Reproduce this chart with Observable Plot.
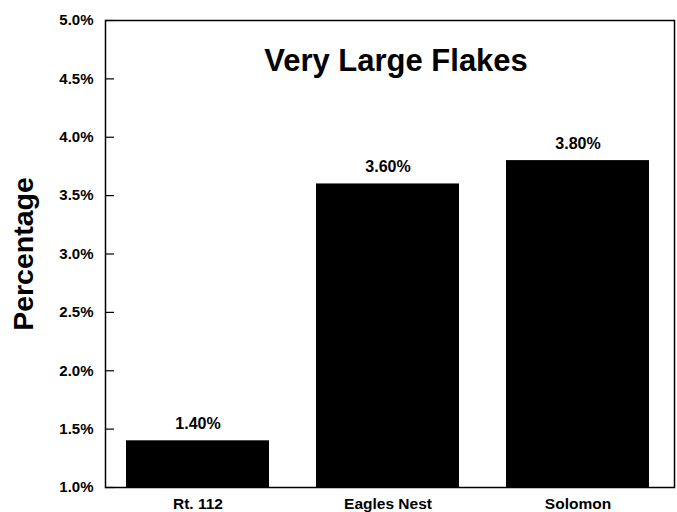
<!DOCTYPE html>
<html>
<head>
<meta charset="utf-8">
<script src="https://cdn.jsdelivr.net/npm/d3@7"></script>
<script src="https://cdn.jsdelivr.net/npm/@observablehq/plot@0.6"></script>
<style>
  html, body { margin: 0; padding: 0; background: #fff; }
  #chart { width: 677px; height: 512px; }
  svg { font-family: "Liberation Sans", Arial, sans-serif; }
</style>
</head>
<body>
<div id="chart"></div>
<script>
const sites = ["Rt. 112", "Eagles Nest", "Solomon"];
const percentages = [1.40, 3.60, 3.80];
const yTicks = [1.0, 1.5, 2.0, 2.5, 3.0, 3.5, 4.0, 4.5, 5.0];
const chartTitle = "Very Large Flakes";
const yLabel = "Percentage";

const data = sites.map((s, i) => ({site: s, value: percentages[i]}));

const W = 677, H = 512;
const mL = 105, mR = 3, mT = 20, mB = 25;

const chart = Plot.plot({
  width: W,
  height: H,
  marginLeft: mL,
  marginRight: mR,
  marginTop: mT,
  marginBottom: mB,
  style: {fontFamily: '"Liberation Sans", Arial, sans-serif', background: "#fff", color: "#000"},
  x: {domain: sites, paddingInner: 0.25, paddingOuter: 0.12, align: 0.45, label: null},
  y: {domain: [1, 5], label: null},
  marks: [
    Plot.barY(data, {x: "site", y1: 1, y2: "value", fill: "#000"}),
    Plot.text(data, {x: "site", y: "value", text: d => d.value.toFixed(2) + "%", lineAnchor: "bottom", dy: -12, fontSize: 16, fontWeight: "bold", fill: "#000"}),
    Plot.tickY(yTicks, {y: d => d, stroke: "#000", strokeWidth: 1.2, insetRight: W - mL - mR - 9}),
    Plot.frame({stroke: "#000", strokeWidth: 1.5}),
    Plot.axisY({ticks: yTicks, tickSize: 0, tickPadding: 12, tickFormat: d => d.toFixed(1) + "%", fontSize: 15, fontWeight: "bold", label: null}),
    Plot.axisX({tickSize: 0, tickPadding: 10, fontSize: 15.5, fontWeight: "bold", label: null}),
    Plot.text([chartTitle], {frameAnchor: "top", lineAnchor: "bottom", dy: 50, dx: 6, fontSize: 31, fontWeight: "bold", fill: "#000"}),
    Plot.text([yLabel], {frameAnchor: "left", textAnchor: "middle", lineAnchor: "middle", dx: -82, rotate: -90, fontSize: 28.5, fontWeight: "bold", fill: "#000"})
  ]
});
document.getElementById("chart").appendChild(chart);
</script>
</body>
</html>
